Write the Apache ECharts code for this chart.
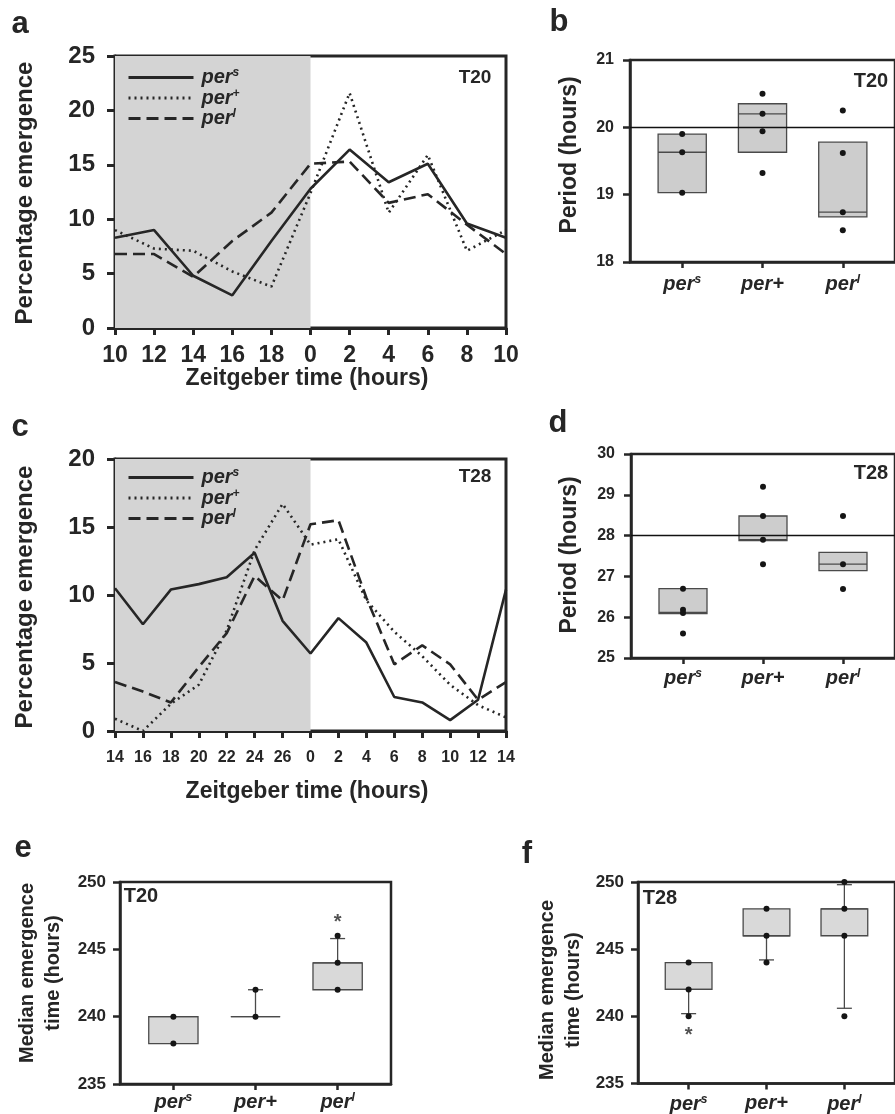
<!DOCTYPE html>
<html>
<head>
<meta charset="utf-8">
<script src="https://cdn.jsdelivr.net/npm/echarts@6.0.0/dist/echarts.min.js"></script>
<style>
  html, body { margin: 0; padding: 0; background: #fff; }
  #chart { width: 895px; height: 1114px; }
</style>
</head>
<body>
<div id="chart"></div>
<script>
// ---- data ----
const ticksT20 = ['10', '12', '14', '16', '18', '0', '2', '4', '6', '8', '10'];
const perS_T20 = [8.3, 9.0, 4.8, 3.0, 8.0, 12.8, 16.4, 13.4, 15.1, 9.6, 8.3];
const perPlus_T20 = [9.0, 7.3, 7.1, 5.2, 3.8, 12.4, 21.6, 10.6, 15.9, 7.1, 9.0];
const perL_T20 = [6.8, 6.8, 4.7, 8.0, 10.6, 15.1, 15.3, 11.5, 12.3, 9.5, 6.8];

const ticksT28 = ['14', '16', '18', '20', '22', '24', '26', '0', '2', '4', '6', '8', '10', '12', '14'];
const perS_T28 = [10.5, 7.85, 10.4, 10.8, 11.3, 13.1, 8.1, 5.7, 8.3, 6.5, 2.5, 2.1, 0.8, 2.3, 10.4];
const perPlus_T28 = [0.9, 0.0, 2.0, 3.4, 7.4, 13.3, 16.7, 13.7, 14.1, 9.6, 7.3, 5.5, 3.4, 1.9, 1.0];
const perL_T28 = [3.6, 2.9, 2.1, 4.7, 7.2, 11.4, 9.6, 15.2, 15.5, 9.8, 4.9, 6.3, 4.9, 2.3, 3.6];

const genotypes = ['per s', 'per +', 'per l'];

// period boxes (q1, median, q3) and individual points
const periodT20_q1 = [19.03, 19.63, 18.67];
const periodT20_med = [19.63, 20.2, 18.74];
const periodT20_q3 = [19.9, 20.35, 19.78];
const periodT20_pts = [[19.9, 19.63, 19.03], [20.5, 20.2, 19.94, 19.32], [20.25, 19.62, 18.74, 18.47]];

const periodT28_q1 = [26.09, 27.88, 27.14];
const periodT28_med = [26.12, 27.9, 27.3];
const periodT28_q3 = [26.7, 28.48, 27.59];
const periodT28_pts = [[26.7, 26.18, 26.1, 25.6], [29.2, 28.48, 27.9, 27.3], [28.48, 27.3, 26.69]];

// median emergence boxes, whiskers and points
const medT20_q1 = [238, 240, 242];
const medT20_med = [240, 240, 244];
const medT20_q3 = [240, 240, 244];
const medT20_whLow = [null, null, null];
const medT20_whHigh = [null, 242, 245.8];
const medT20_pts = [[240, 238], [242, 240], [246, 244, 242]];

const medT28_q1 = [242, 246, 246];
const medT28_med = [242, 246, 248];
const medT28_q3 = [244, 248, 248];
const medT28_whLow = [240.2, 244.2, 240.6];
const medT28_whHigh = [null, null, 249.8];
const medT28_pts = [[244, 242, 240], [248, 246, 244], [250, 248, 246, 240]];

const starT20 = [[3, 247]];
const starT28 = [[1, 238.6]];

// ---- helpers ----
const FONT = '"Liberation Sans", Arial, Helvetica, sans-serif';
const INK = '#262626';

const richPer = {
  i: { fontFamily: FONT, fontWeight: 'bold', fontStyle: 'italic', fontSize: 20, color: INK },
  sup: { fontFamily: FONT, fontWeight: 'bold', fontStyle: 'italic', fontSize: 12, color: INK, padding: [0, 0, 9, 0] }
};
function perLabel(name) {
  const g = name.split(' ')[1];
  return g === '+' ? '{i|per+}' : '{i|per}{sup|' + g + '}';
}
function legendLabel(name) {
  return '{i|per}{sup|' + name.split(' ')[1] + '}';
}

const zip = arr => arr.map((v, i) => [i, v]);
const boxData = (q1, med, q3) => q1.map((v, i) => [i + 1, v, med[i], q3[i]]);
const pointData = pts => pts.flatMap((list, i) => list.map(v => [i + 1, v]));

function lineAxisX(idx, ticks, fontSize, margin) {
  return {
    type: 'value', gridIndex: idx, min: 0, max: ticks.length - 1, interval: 1,
    axisLine: { onZero: false, lineStyle: { color: INK, width: 3 } },
    axisTick: { inside: false, length: 7, lineStyle: { color: INK, width: 3 } },
    axisLabel: { formatter: v => ticks[v], fontFamily: FONT, fontWeight: 'bold', fontSize: fontSize, color: INK, margin: margin },
    splitLine: { show: false }
  };
}
function lineAxisY(idx, max) {
  return {
    type: 'value', gridIndex: idx, min: 0, max: max, interval: 5,
    axisLine: { show: true, lineStyle: { color: INK, width: 3 } },
    axisTick: { show: true, inside: false, length: 8, lineStyle: { color: INK, width: 3 } },
    axisLabel: { fontFamily: FONT, fontWeight: 'bold', fontSize: 24, color: INK, margin: 20 },
    splitLine: { show: false }
  };
}
function boxAxisX(idx, margin) {
  return {
    type: 'value', gridIndex: idx, min: 0.35, max: 3.65,
    axisLine: { onZero: false, lineStyle: { color: INK, width: 2.5 } },
    axisTick: { customValues: [1, 2, 3], inside: false, length: 6, lineStyle: { color: INK, width: 2.5 } },
    axisLabel: { customValues: [1, 2, 3], formatter: v => perLabel(genotypes[v - 1]), rich: richPer, margin: margin },
    splitLine: { show: false }
  };
}
function boxAxisY(idx, min, max, interval, fontSize, margin) {
  return {
    type: 'value', gridIndex: idx, min: min, max: max, interval: interval,
    axisLine: { show: true, lineStyle: { color: INK, width: 2.5 } },
    axisTick: { show: true, inside: false, length: 7, lineStyle: { color: INK, width: 2.5 } },
    axisLabel: { fontFamily: FONT, fontWeight: 'bold', fontSize: fontSize, color: INK, margin: margin },
    splitLine: { show: false }
  };
}

function lineSeries(name, data, idx, dash, shade) {
  const s = {
    name: name, type: 'line', xAxisIndex: idx, yAxisIndex: idx, data: zip(data),
    symbol: 'none', silent: true, z: 3,
    itemStyle: { color: INK },
    lineStyle: { color: INK, width: 2.6, type: dash, cap: 'butt' }
  };
  if (shade != null) {
    s.markArea = {
      silent: true, z: 1,
      itemStyle: { color: '#d4d4d4' },
      data: [[{ xAxis: 0 }, { xAxis: shade }]]
    };
  }
  return s;
}

function boxRenderer(whLow, whHigh, fill) {
  return function (params, api) {
    const i = params.dataIndex;
    const x = api.value(0);
    const pLo = api.coord([x, api.value(1)]);
    const pMed = api.coord([x, api.value(2)]);
    const pHi = api.coord([x, api.value(3)]);
    const half = api.size([0.6, 0])[0] / 2;
    const cap = 7.5;
    const st = { stroke: '#4a4a4a', lineWidth: 1.3, fill: null };
    const kids = [];
    [[whLow, pLo], [whHigh, pHi]].forEach(function (w) {
      if (w[0] && w[0][i] != null) {
        const p = api.coord([x, w[0][i]]);
        kids.push({ type: 'line', shape: { x1: pLo[0], y1: w[1][1], x2: p[0], y2: p[1] }, style: st });
        kids.push({ type: 'line', shape: { x1: p[0] - cap, y1: p[1], x2: p[0] + cap, y2: p[1] }, style: st });
      }
    });
    kids.push({
      type: 'rect',
      shape: { x: pLo[0] - half, y: pHi[1], width: half * 2, height: pLo[1] - pHi[1] },
      style: { fill: fill, stroke: '#4a4a4a', lineWidth: 1.3 }
    });
    kids.push({ type: 'line', shape: { x1: pMed[0] - half, y1: pMed[1], x2: pMed[0] + half, y2: pMed[1] }, style: st });
    return { type: 'group', children: kids };
  };
}

function boxSeries(idx, q1, med, q3, whLow, whHigh, fill) {
  return {
    type: 'custom', xAxisIndex: idx, yAxisIndex: idx, silent: true, z: 2,
    data: boxData(q1, med, q3),
    encode: { x: 0, y: 1 },
    renderItem: boxRenderer(whLow, whHigh, fill)
  };
}
function pointSeries(idx, pts, refLine) {
  const s = {
    type: 'scatter', xAxisIndex: idx, yAxisIndex: idx, silent: true, z: 4,
    data: pointData(pts), symbolSize: 6, itemStyle: { color: '#151515', opacity: 1 }
  };
  if (refLine != null) {
    s.markLine = {
      silent: true, symbol: 'none', z: 5,
      lineStyle: { color: '#111', width: 1.3, type: 'solid' },
      label: { show: false },
      data: [{ yAxis: refLine }]
    };
  }
  return s;
}
function starSeries(idx, data) {
  return {
    type: 'scatter', xAxisIndex: idx, yAxisIndex: idx, silent: true, z: 5,
    data: data, symbolSize: 1, itemStyle: { color: 'rgba(0,0,0,0)' },
    label: { show: true, position: 'inside', formatter: '*', fontFamily: FONT, fontWeight: 'bold', fontSize: 20, color: INK }
  };
}

function txt(x, y, text, size, opts) {
  opts = opts || {};
  return {
    type: 'text', x: x, y: y, rotation: opts.rot ? Math.PI / 2 : 0, silent: true, z: 10,
    style: {
      text: text, fill: INK, fontFamily: FONT, fontWeight: 'bold', fontSize: size,
      align: 'center', verticalAlign: 'middle', textAlign: 'center', textVerticalAlign: 'middle',
      lineHeight: opts.lh || undefined
    }
  };
}

const legendCommon = {
  orient: 'vertical', itemWidth: 65, itemHeight: 12, itemGap: 0,
  selectedMode: false,
  itemStyle: { opacity: 0 },
  lineStyle: { width: 3 },
  data: genotypes,
  formatter: legendLabel,
  textStyle: { rich: richPer, padding: [0, 0, 0, 3] }
};

const chart = echarts.init(document.getElementById('chart'), null, { renderer: 'canvas' });

const option = {
  backgroundColor: '#ffffff',
  animation: false,
  grid: [
    { left: 115, top: 56, width: 391, height: 272, show: true, borderColor: INK, borderWidth: 3 },
    { left: 630, top: 60, width: 276, height: 202, show: true, borderColor: INK, borderWidth: 2.5 },
    { left: 115, top: 459, width: 391, height: 272, show: true, borderColor: INK, borderWidth: 3 },
    { left: 631, top: 454, width: 276, height: 204, show: true, borderColor: INK, borderWidth: 2.5 },
    { left: 120, top: 882, width: 271, height: 202, show: true, borderColor: INK, borderWidth: 2.5 },
    { left: 638, top: 882, width: 267, height: 203, show: true, borderColor: INK, borderWidth: 2.5 }
  ],
  xAxis: [
    lineAxisX(0, ticksT20, 23, 16),
    boxAxisX(1, 12),
    lineAxisX(2, ticksT28, 16, 19),
    boxAxisX(3, 10),
    boxAxisX(4, 8),
    boxAxisX(5, 10)
  ],
  yAxis: [
    lineAxisY(0, 25),
    boxAxisY(1, 18, 21, 1, 16, 16),
    lineAxisY(2, 20),
    boxAxisY(3, 25, 30, 1, 16, 16),
    boxAxisY(4, 235, 250, 5, 17, 14),
    boxAxisY(5, 235, 250, 5, 17, 14)
  ],
  legend: [
    Object.assign({}, legendCommon, { left: 122, top: 62 }),
    Object.assign({}, legendCommon, { left: 122, top: 462 })
  ],
  series: [
    lineSeries('per s', perS_T20, 0, 'solid', 5),
    lineSeries('per +', perPlus_T20, 0, [2, 4]),
    lineSeries('per l', perL_T20, 0, [12, 6]),
    lineSeries('per s', perS_T28, 2, 'solid', 7),
    lineSeries('per +', perPlus_T28, 2, [2, 4]),
    lineSeries('per l', perL_T28, 2, [12, 6]),

    boxSeries(1, periodT20_q1, periodT20_med, periodT20_q3, null, null, '#cdcdcd'),
    pointSeries(1, periodT20_pts, 20),
    boxSeries(3, periodT28_q1, periodT28_med, periodT28_q3, null, null, '#cdcdcd'),
    pointSeries(3, periodT28_pts, 28),

    boxSeries(4, medT20_q1, medT20_med, medT20_q3, medT20_whLow, medT20_whHigh, '#d9d9d9'),
    pointSeries(4, medT20_pts),
    starSeries(4, starT20),
    boxSeries(5, medT28_q1, medT28_med, medT28_q3, medT28_whLow, medT28_whHigh, '#d9d9d9'),
    pointSeries(5, medT28_pts),
    starSeries(5, starT28)
  ],
  graphic: [
    txt(20, 24, 'a', 31), txt(559, 22, 'b', 31),
    txt(20, 427, 'c', 31), txt(558, 423, 'd', 31),
    txt(23, 848, 'e', 31), txt(527, 854, 'f', 31),

    txt(25, 193, 'Percentage emergence', 24, { rot: true }),
    txt(307, 379, 'Zeitgeber time (hours)', 23),
    txt(570, 155, 'Period (hours)', 23, { rot: true }),
    txt(25, 597, 'Percentage emergence', 24, { rot: true }),
    txt(307, 792, 'Zeitgeber time (hours)', 23),
    txt(570, 555, 'Period (hours)', 23, { rot: true }),
    txt(40, 973, 'Median emergence\ntime (hours)', 20, { rot: true, lh: 26 }),
    txt(560, 990, 'Median emergence\ntime (hours)', 20, { rot: true, lh: 26 }),

    txt(475, 78, 'T20', 19), txt(871, 81, 'T20', 20),
    txt(475, 477, 'T28', 19), txt(871, 473, 'T28', 20),
    txt(141, 896, 'T20', 20), txt(660, 898, 'T28', 20)
  ]
};

chart.setOption(option);
</script>
</body>
</html>
